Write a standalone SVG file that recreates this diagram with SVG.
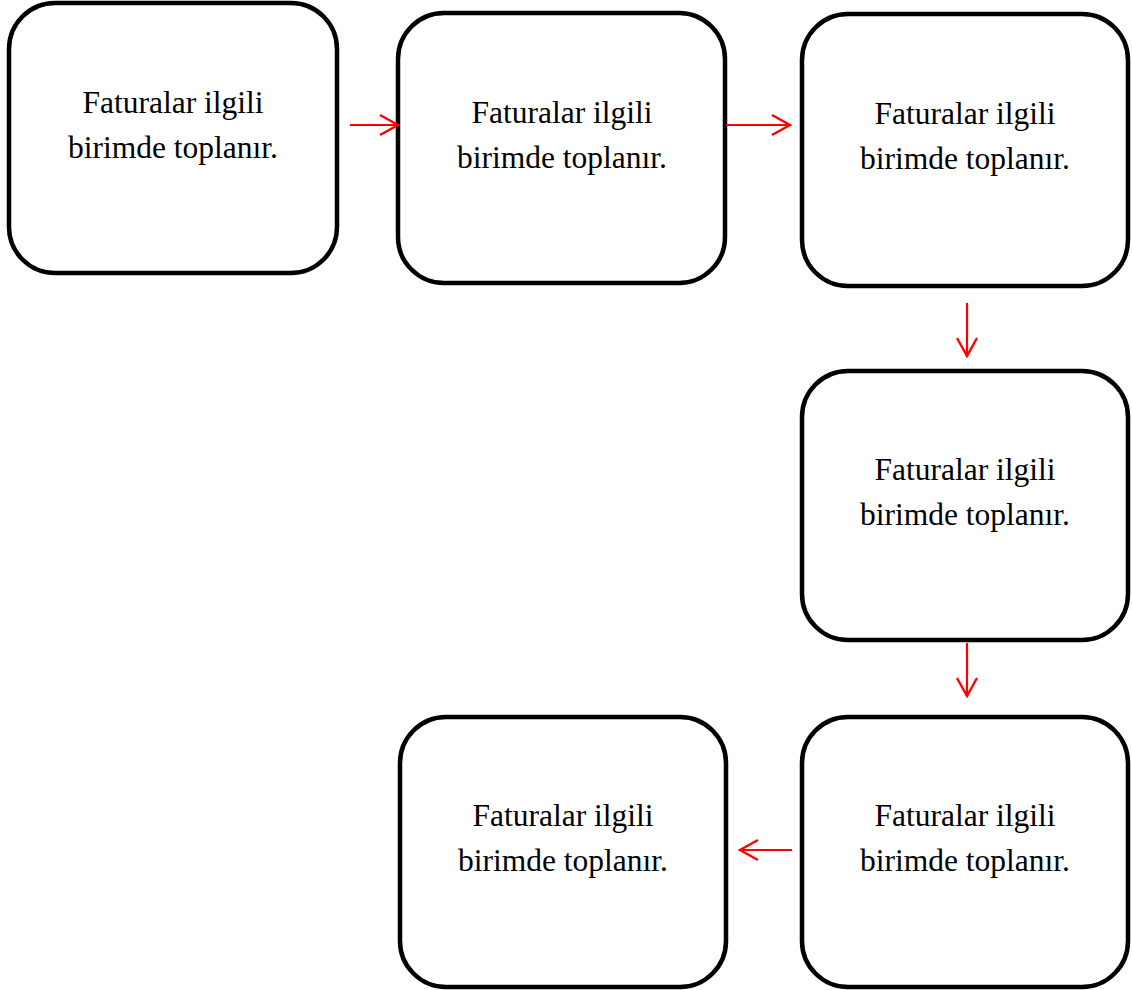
<svg xmlns="http://www.w3.org/2000/svg" width="1132" height="990" viewBox="0 0 1132 990">
  <style>
    .box { fill: #fff; stroke: #000; stroke-width: 4.5; }
    .lbl { font-family: "Liberation Serif", "Times New Roman", serif; font-size: 31.5px; fill: #000; text-anchor: middle; }
    .conn { stroke: #f00; stroke-width: 2.2; fill: none; }
  </style>
  <defs>
    <marker id="head" viewBox="0 0 22 24" refX="20" refY="12" markerWidth="22" markerHeight="24" markerUnits="userSpaceOnUse" orient="auto">
      <path d="M2,2 L20,12 L2,22" fill="none" stroke="#f00" stroke-width="2.4"/>
    </marker>
  </defs>
  <rect width="1132" height="990" fill="#fff"/>

  <g id="node1">
    <rect class="box" x="9" y="3" width="328" height="270" rx="46"/>
    <text class="lbl" x="173" y="113">Faturalar ilgili</text>
    <text class="lbl" x="173" y="158">birimde toplanır.</text>
  </g>
  <g id="node2">
    <rect class="box" x="398" y="13" width="327" height="270" rx="46"/>
    <text class="lbl" x="562" y="123">Faturalar ilgili</text>
    <text class="lbl" x="562" y="168">birimde toplanır.</text>
  </g>
  <g id="node3">
    <rect class="box" x="802" y="14" width="326" height="272" rx="46"/>
    <text class="lbl" x="965" y="124">Faturalar ilgili</text>
    <text class="lbl" x="965" y="169">birimde toplanır.</text>
  </g>
  <g id="node4">
    <rect class="box" x="802" y="371" width="326" height="269" rx="46"/>
    <text class="lbl" x="965" y="480">Faturalar ilgili</text>
    <text class="lbl" x="965" y="525">birimde toplanır.</text>
  </g>
  <g id="node5">
    <rect class="box" x="802" y="717" width="326" height="270" rx="46"/>
    <text class="lbl" x="965" y="826">Faturalar ilgili</text>
    <text class="lbl" x="965" y="871">birimde toplanır.</text>
  </g>
  <g id="node6">
    <rect class="box" x="400" y="717" width="326" height="270" rx="46"/>
    <text class="lbl" x="563" y="826">Faturalar ilgili</text>
    <text class="lbl" x="563" y="871">birimde toplanır.</text>
  </g>

  <g id="connectors">
    <line class="conn" x1="350" y1="125" x2="398" y2="125" marker-end="url(#head)"/>
    <line class="conn" x1="726" y1="125" x2="790" y2="125" marker-end="url(#head)"/>
    <line class="conn" x1="967" y1="303" x2="967" y2="356" marker-end="url(#head)"/>
    <line class="conn" x1="967" y1="643" x2="967" y2="696" marker-end="url(#head)"/>
    <line class="conn" x1="792" y1="850" x2="740" y2="850" marker-end="url(#head)"/>
  </g>
</svg>
